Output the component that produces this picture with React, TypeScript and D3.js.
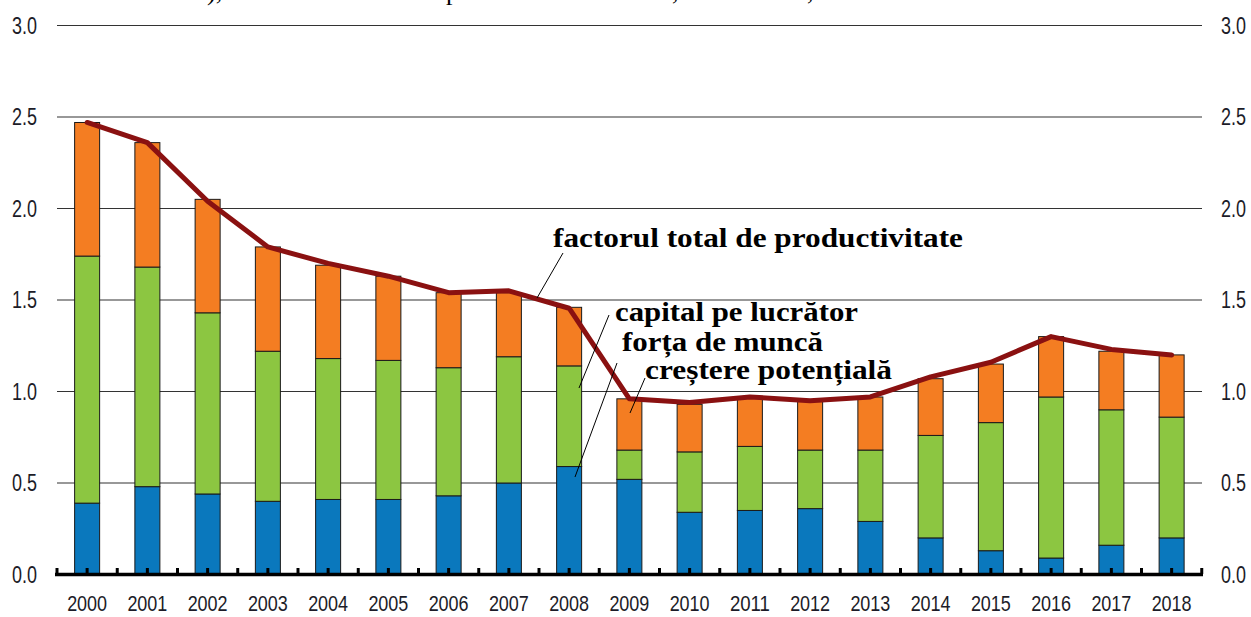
import React from "react";
import * as d3 from "d3";

const years = ["2000","2001","2002","2003","2004","2005","2006","2007","2008","2009","2010","2011","2012","2013","2014","2015","2016","2017","2018"];
const blueSeries = [0.39,0.48,0.44,0.40,0.41,0.41,0.43,0.50,0.59,0.52,0.34,0.35,0.36,0.29,0.20,0.13,0.09,0.16,0.20];
const greenSeries = [1.35,1.20,0.99,0.82,0.77,0.76,0.70,0.69,0.55,0.16,0.33,0.35,0.32,0.39,0.56,0.70,0.88,0.74,0.66];
const orangeSeries = [0.73,0.68,0.62,0.57,0.51,0.46,0.41,0.35,0.32,0.28,0.26,0.27,0.27,0.29,0.31,0.32,0.33,0.32,0.34];
const lineSeries = [2.47,2.36,2.04,1.79,1.70,1.63,1.54,1.55,1.455,0.96,0.94,0.97,0.95,0.97,1.08,1.16,1.30,1.23,1.20];
const yTicks = [0,0.5,1,1.5,2,2.5,3];
const labels = [
  { text: "factorul total de productivitate", x: 553, y: 247, w: 410, lx1: 563, ly1: 253, lx2: 537, ly2: 298 },
  { text: "capital pe lucrător", x: 615, y: 321, w: 243, lx1: 609, ly1: 315, lx2: 579, ly2: 388 },
  { text: "forța de muncă", x: 622, y: 351, w: 201, lx1: 617, ly1: 363, lx2: 575, ly2: 477 },
  { text: "creștere potențială", x: 645, y: 379, w: 247, lx1: 645, ly1: 378, lx2: 630, ly2: 413 },
];
const titleFragments = [
  { t: "),", x: 207 },
  { t: "p", x: 446 },
  { t: ",", x: 672 },
  { t: ",", x: 807 },
];

const W = 1251, H = 617;
const keys = ["blue", "green", "orange"];
const colors: Record<string,string> = { blue: "#0a78bd", green: "#8cc641", orange: "#f47d22" };

export default function App() {
  const x = d3.scaleBand().domain(years).range([57, 1201.75]).paddingInner(0.585).paddingOuter(0.2925);
  const band = d3.scaleBand().domain(years).range([57, 1201.75]).padding(0);
  const y = d3.scaleLinear().domain([0, 3]).range([574.5, 25.5]);
  const rows = years.map((yr, i) => ({ year: yr, blue: blueSeries[i], green: greenSeries[i], orange: orangeSeries[i] }));
  const stacked = d3.stack<any>().keys(keys)(rows);
  const cx = (yr: string) => (x(yr) as number) + x.bandwidth() / 2;
  const line = d3.line<number>().x((_, i) => cx(years[i])).y(d => y(d));
  const tickXs: number[] = [];
  years.forEach(yr => { tickXs.push(band(yr) as number); tickXs.push((band(yr) as number) + band.bandwidth() / 2); });
  tickXs.push(1201.75);
  const axisFont = "'Liberation Sans', Arial, sans-serif";
  const serif = "'Liberation Serif', 'Times New Roman', serif";
  const tc = "#1c1c28";
  return (
    <svg width={W} height={H} style={{ position: "absolute", left: 0, top: 0, background: "#fff" }}>
      {titleFragments.map((f, i) => (
        <text key={i} x={f.x} y={0} fontFamily={serif} fontSize={26} fill="#000">{f.t}</text>
      ))}
      {yTicks.filter(t => t > 0).map(t => (
        <line key={t} x1={57} x2={1202} y1={y(t)} y2={y(t)} stroke="#333" strokeWidth={1.2} />
      ))}
      {yTicks.map(t => (
        <g key={"l" + t}>
          <text x={12} y={y(t)} dy="0.36em" textLength={25} lengthAdjust="spacingAndGlyphs" fontFamily={axisFont} fontSize={23} fill={tc}>{t.toFixed(1)}</text>
          <text x={1246} y={y(t)} dy="0.36em" textAnchor="end" textLength={25} lengthAdjust="spacingAndGlyphs" fontFamily={axisFont} fontSize={23} fill={tc}>{t.toFixed(1)}</text>
        </g>
      ))}
      {stacked.map(s => (
        <g key={s.key}>
          {s.map((d, i) => (
            <rect key={i} x={x(years[i])} width={x.bandwidth()} y={y(d[1])} height={y(d[0]) - y(d[1])}
              fill={colors[s.key]} stroke="#1a1a1a" strokeWidth={1} />
          ))}
        </g>
      ))}
      <path d={line(lineSeries) || ""} fill="none" stroke="#8a1111" strokeWidth={5} strokeLinejoin="round" strokeLinecap="round" />
      <line x1={55} x2={1203} y1={574.5} y2={574.5} stroke="#000" strokeWidth={3.5} />
      {tickXs.map((t, i) => (
        <line key={i} x1={t} x2={t} y1={568} y2={574} stroke="#000" strokeWidth={3} />
      ))}
      {years.map(yr => (
        <text key={yr} x={cx(yr) - 20} y={610.5} textLength={40} lengthAdjust="spacingAndGlyphs" fontFamily={axisFont} fontSize={22} fill={tc}>{yr}</text>
      ))}
      {labels.map((l, i) => (
        <g key={i}>
          <line x1={l.lx1} y1={l.ly1} x2={l.lx2} y2={l.ly2} stroke="#000" strokeWidth={1} />
          <text x={l.x} y={l.y} textLength={l.w} lengthAdjust="spacingAndGlyphs" fontFamily={serif} fontWeight="bold" fontSize={28} fill="#000">{l.text}</text>
        </g>
      ))}
    </svg>
  );
}
